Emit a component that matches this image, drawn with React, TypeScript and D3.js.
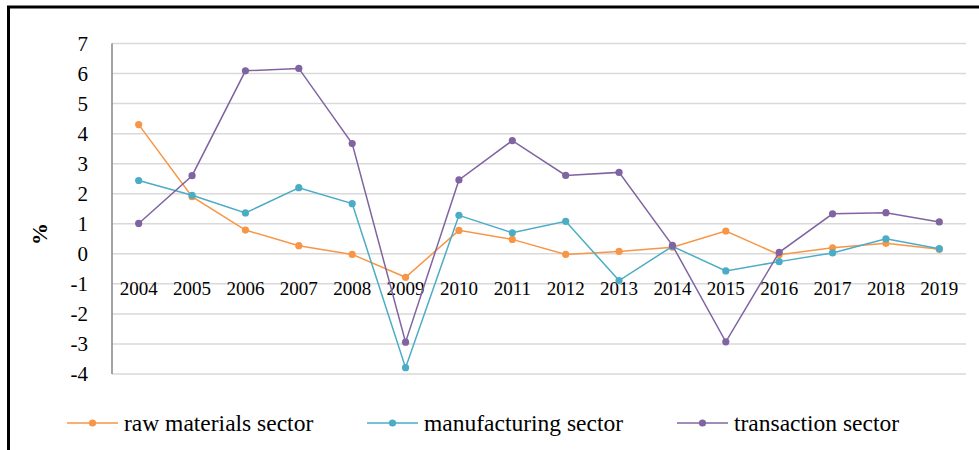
import React from "react";
import * as d3 from "d3";

const years = ["2004","2005","2006","2007","2008","2009","2010","2011","2012","2013","2014","2015","2016","2017","2018","2019"];
const rawMaterials = [4.3, 1.9, 0.79, 0.27, -0.02, -0.78, 0.78, 0.48, -0.02, 0.08, 0.22, 0.76, -0.03, 0.2, 0.35, 0.15];
const manufacturing = [2.44, 1.95, 1.36, 2.2, 1.67, -3.79, 1.28, 0.7, 1.08, -0.89, 0.25, -0.57, -0.26, 0.03, 0.5, 0.17];
const transaction = [1.01, 2.6, 6.09, 6.17, 3.67, -2.94, 2.46, 3.77, 2.61, 2.71, 0.28, -2.93, 0.05, 1.33, 1.37, 1.06];
const yTicks = [7, 6, 5, 4, 3, 2, 1, 0, -1, -2, -3, -4];
const seriesNames = ["raw materials sector", "manufacturing sector", "transaction sector"];
const seriesColors = ["#F79646", "#4BACC6", "#8064A2"];

export default function App() {
  const W = 979, H = 450;
  const left = 112, right = 966, top = 43.5, bottom = 374;
  const x = d3.scaleBand<string>().domain(years).range([left, right]);
  const y = d3.scaleLinear().domain([-4, 7]).range([bottom, top]);
  const all = [rawMaterials, manufacturing, transaction];
  const line = d3.line<number>()
    .x((_, i) => (x(years[i]) as number) + x.bandwidth() / 2)
    .y((d) => y(d));
  const font = '"Liberation Serif", "DejaVu Serif", serif';
  const legendX = [67, 367, 677];
  return (
    <svg width={W} height={H} style={{ position: "absolute", left: 0, top: 0, background: "#fff", fontFamily: font }}>
      <rect x={0} y={0} width={W} height={H} fill="#fff" />
      {yTicks.map((t) => (
        <line key={"g" + t} x1={left} x2={right} y1={y(t)} y2={y(t)} stroke="#D9D9D9" strokeWidth={1.5} />
      ))}
      <line x1={left} x2={left} y1={top} y2={bottom} stroke="#868686" strokeWidth={1.5} />
      {yTicks.map((t) => (
        <text key={"t" + t} x={88} y={y(t)} dy="0.35em" textAnchor="end" fontSize={21} fill="#000" style={{ fontFamily: font }}>{t}</text>
      ))}
      {years.map((yr) => (
        <text key={yr} x={(x(yr) as number) + x.bandwidth() / 2} y={295} textAnchor="middle" fontSize={19} fill="#000" style={{ fontFamily: font }}>{yr}</text>
      ))}
      <text transform={`translate(47,234) rotate(-90)`} textAnchor="middle" fontSize={22} fontWeight="bold" fill="#000" style={{ fontFamily: font }}>%</text>
      {all.map((s, k) => (
        <g key={k}>
          <path d={line(s) || ""} fill="none" stroke={seriesColors[k]} strokeWidth={1.5} />
          {s.map((v, i) => (
            <circle key={i} cx={(x(years[i]) as number) + x.bandwidth() / 2} cy={y(v)} r={3.6} fill={seriesColors[k]} />
          ))}
        </g>
      ))}
      {seriesNames.map((n, k) => (
        <g key={n}>
          <line x1={legendX[k]} x2={legendX[k] + 51} y1={423} y2={423} stroke={seriesColors[k]} strokeWidth={1.5} />
          <circle cx={legendX[k] + 25.5} cy={423} r={3.6} fill={seriesColors[k]} />
          <text x={legendX[k] + 57} y={423} dy="0.33em" fontSize={23.5} fill="#000" style={{ fontFamily: font }}>{n}</text>
        </g>
      ))}
      <path d={`M8.5,450 L8.5,7 L979,7`} fill="none" stroke="#000" strokeWidth={3} />
    </svg>
  );
}
